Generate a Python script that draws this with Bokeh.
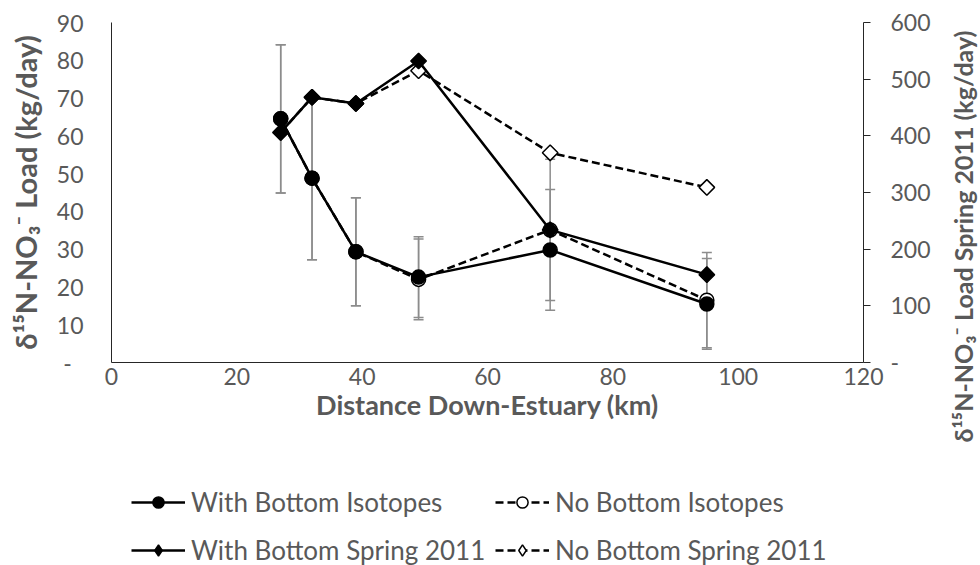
import numpy as np
from bokeh.plotting import figure
from bokeh.layouts import row, column
from bokeh.models import (ColumnDataSource, Range1d, LinearAxis, FixedTicker,
                          Whisker, TeeHead, Legend, LegendItem, Label)
from bokeh.embed import file_html
from bokeh.resources import INLINE

# ---------------- data ----------------
distance_km = [27, 32, 39, 49, 70, 95]
with_bottom_isotopes = [64.5, 48.8, 29.3, 22.6, 29.8, 15.5]
with_bottom_isotopes_err = [19.6, 21.6, 14.3, 10.7, 16.0, 12.0]
no_bottom_isotopes = [64.5, 48.8, 29.3, 22.0, 35.1, 16.5]
no_bottom_isotopes_err = [19.6, 21.6, 14.3, 10.7, 18.7, 12.6]
with_bottom_spring2011 = [406, 468, 457, 532, 234, 155]
no_bottom_spring2011 = [406, 468, 457, 515, 370, 309]

x_ticks = [0, 20, 40, 60, 80, 100, 120]
left_ticks = [0, 10, 20, 30, 40, 50, 60, 70, 80, 90]
right_ticks = [0, 100, 200, 300, 400, 500, 600]

series_labels = ["With Bottom Isotopes", "With Bottom Spring 2011",
                 "No Bottom Isotopes", "No Bottom Spring 2011"]
x_title = "Distance Down-Estuary (km)"
left_title = "δ¹⁵N-NO₃⁻ Load (kg/day)"
right_title = "δ¹⁵N-NO₃⁻ Load Spring 2011 (kg/day)"

FONT = "Lato"
TXT = "#595959"
AX = "#262626"
TICK_FS = "23px"

MAIN_W = 940
SIDE_W = 40
MAIN_H = 460
LEG_H = 105
H = MAIN_H + LEG_H

p = figure(width=MAIN_W, height=MAIN_H, x_range=Range1d(0, 120), y_range=Range1d(0, 90),
           output_backend="svg", toolbar_location=None,
           min_border_left=111, min_border_right=MAIN_W - 863,
           min_border_top=22, min_border_bottom=MAIN_H - 362)
p.outline_line_color = None
p.xgrid.visible = False
p.ygrid.visible = False
p.extra_y_ranges = {"right": Range1d(0, 600)}

# x axis
xa = p.xaxis[0]
xa.ticker = FixedTicker(ticks=x_ticks)
xa.minor_tick_line_color = None
xa.major_tick_out = 0
xa.major_tick_in = 0
xa.axis_line_color = AX
xa.major_label_text_font = FONT
xa.major_label_text_font_size = TICK_FS
xa.major_label_text_color = TXT
xa.major_label_standoff = 5
xa.axis_label = x_title
xa.axis_label_text_font = FONT
xa.axis_label_text_font_style = "bold"
xa.axis_label_text_font_size = "27px"
xa.axis_label_text_color = TXT
xa.axis_label_standoff = 0

# left axis
ya = p.yaxis[0]
ya.ticker = FixedTicker(ticks=left_ticks)
ya.major_label_overrides = {0: "-\u00a0\u00a0"}
ya.minor_tick_line_color = None
ya.major_tick_out = 0
ya.major_tick_in = 0
ya.axis_line_color = AX
ya.major_label_text_font = FONT
ya.major_label_text_font_size = TICK_FS
ya.major_label_text_color = TXT
ya.major_label_standoff = 28
ya.axis_label = left_title
ya.axis_label_text_font = FONT
ya.axis_label_text_font_style = "bold"
ya.axis_label_text_font_size = "29px"
ya.axis_label_text_color = TXT
ya.axis_label_standoff = 11

# right axis
ra = LinearAxis(y_range_name="right", ticker=FixedTicker(ticks=right_ticks))
ra.major_label_overrides = {0: "-"}
ra.minor_tick_line_color = None
ra.major_tick_out = 7
ra.major_tick_in = 0
ra.major_tick_line_color = AX
ra.axis_line_color = AX
ra.major_label_text_font = FONT
ra.major_label_text_font_size = TICK_FS
ra.major_label_text_color = TXT
ra.major_label_standoff = 20
p.add_layout(ra, "right")

# error bars
ERR = "#8c8c8c"
for ys, es in [(no_bottom_isotopes, no_bottom_isotopes_err),
               (with_bottom_isotopes, with_bottom_isotopes_err)]:
    src = ColumnDataSource(dict(x=distance_km,
                                lower=[y - e for y, e in zip(ys, es)],
                                upper=[y + e for y, e in zip(ys, es)]))
    w = Whisker(base="x", lower="lower", upper="upper", source=src,
                line_color=ERR, line_width=1.5,
                upper_head=TeeHead(size=10, line_color=ERR, line_width=1.5),
                lower_head=TeeHead(size=10, line_color=ERR, line_width=1.5))
    p.add_layout(w)

LW = 2.5
DASH = "8 4"
styles = {
    "With Bottom Isotopes": dict(dash="solid", marker="circle", fill="black", size=14),
    "With Bottom Spring 2011": dict(dash="solid", marker="square", fill="black", size=11),
    "No Bottom Isotopes": dict(dash=DASH, marker="circle", fill="white", size=14),
    "No Bottom Spring 2011": dict(dash=DASH, marker="square", fill="white", size=11),
}
values = {
    "With Bottom Isotopes": (with_bottom_isotopes, "default"),
    "With Bottom Spring 2011": (with_bottom_spring2011, "right"),
    "No Bottom Isotopes": (no_bottom_isotopes, "default"),
    "No Bottom Spring 2011": (no_bottom_spring2011, "right"),
}
draw_order = ["No Bottom Spring 2011", "No Bottom Isotopes",
              "With Bottom Spring 2011", "With Bottom Isotopes"]

for name in draw_order:
    ys, rng = values[name]
    st = styles[name]
    src = ColumnDataSource(dict(x=distance_km, y=ys))
    ang = np.pi / 4 if st["marker"] == "square" else 0
    p.line("x", "y", source=src, y_range_name=rng, line_color="black",
           line_width=LW, line_dash=st["dash"])
    p.scatter("x", "y", source=src, y_range_name=rng, marker=st["marker"], angle=ang,
              size=st["size"], fill_color=st["fill"], line_color="black", line_width=1.5)

# legend strip below the chart; its key renderers carry the same series data,
# which lies outside this strip's tiny ranges, so only the legend keys show
leg = figure(width=MAIN_W, height=LEG_H, x_range=Range1d(0, 1), y_range=Range1d(0, 1),
             output_backend="svg", toolbar_location=None,
             x_axis_type=None, y_axis_type=None, min_border=0)
leg.outline_line_color = None
leg.xgrid.visible = False
leg.ygrid.visible = False

def key_items(names):
    items = []
    for name in names:
        st = styles[name]
        ys, _ = values[name]
        ksrc = ColumnDataSource(dict(x=distance_km, y=ys))
        kl = leg.line("x", "y", source=ksrc, line_color="black", line_width=LW, line_dash=st["dash"])
        ks = leg.scatter("x", "y", source=ksrc,
                         marker="diamond" if st["marker"] == "square" else "circle",
                         fill_color=st["fill"], line_color="black", line_width=1.5)
        items.append(LegendItem(label=name, renderers=[kl, ks]))
    return items

for names, x0 in [(series_labels[:2], 131 - 111), (series_labels[2:], 495 - 111)]:
    lg = Legend(items=key_items(names), location=(x0, -1), orientation="vertical",
                border_line_color=None, background_fill_alpha=0,
                padding=0, margin=0, spacing=16,
                glyph_width=54, glyph_height=28, label_standoff=6,
                label_text_font=FONT, label_text_font_size="26px",
                label_text_color=TXT)
    leg.add_layout(lg)

# side strip holding the right-hand axis title
side = figure(width=SIDE_W, height=H, x_range=Range1d(0, 1), y_range=Range1d(0, 1),
              output_backend="svg", toolbar_location=None,
              x_axis_type=None, y_axis_type=None, min_border=0)
side.outline_line_color = None
side.xgrid.visible = False
side.ygrid.visible = False
rt = Label(x=962 - MAIN_W, y=H - 246 + 10, x_units="screen", y_units="screen", text=right_title,
           angle=np.pi / 2, text_align="center", text_baseline="middle",
           text_font=FONT, text_font_style="bold", text_font_size="25px", text_color=TXT)
side.add_layout(rt)

layout = row(column(p, leg), side)
open("out.html", "w").write(file_html(layout, INLINE))
